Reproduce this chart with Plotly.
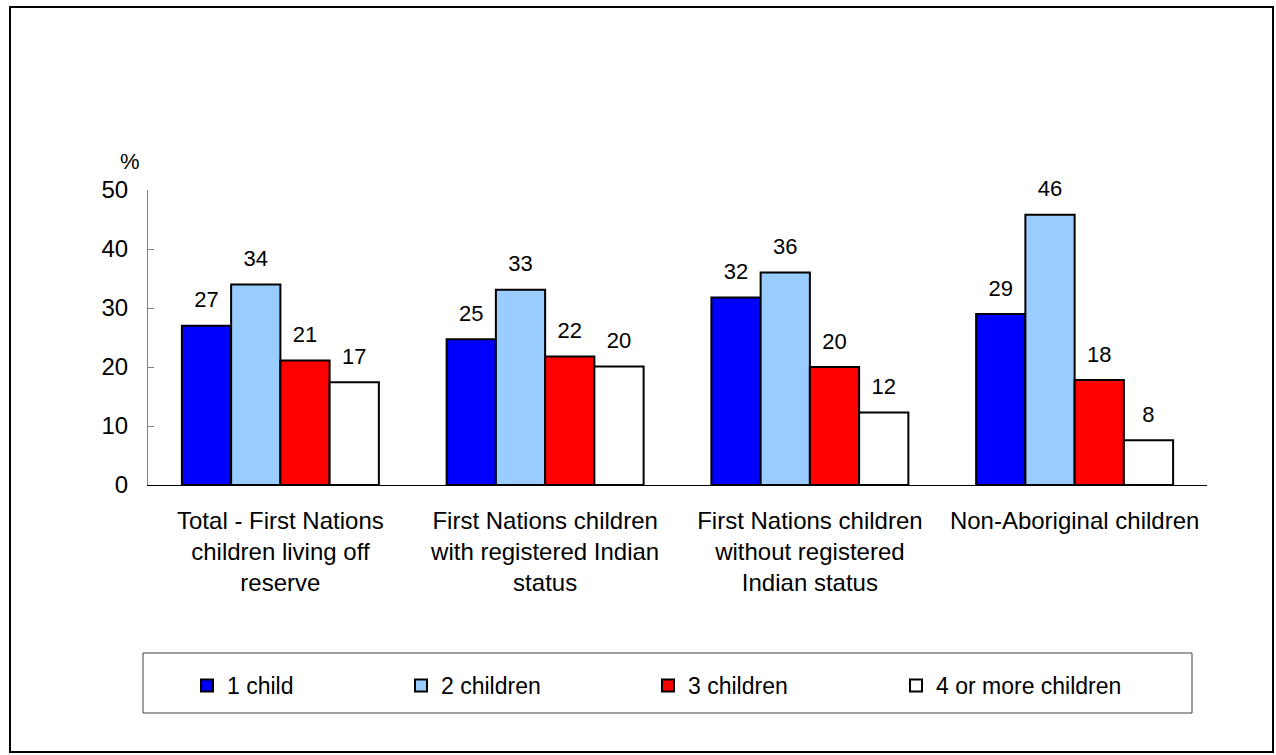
import plotly.graph_objects as go

W, H = 1276, 755
FONT = "Liberation Sans, Arial, sans-serif"

categories = [
    "Total - First Nations<br>children living off<br>reserve",
    "First Nations children<br>with registered Indian<br>status",
    "First Nations children<br>without registered<br>Indian status",
    "Non-Aboriginal children",
]
series_names = ["1 child", "2 children", "3 children", "4 or more children"]
one_child = [27.0, 24.7, 31.8, 29.0]
two_children = [34.0, 33.1, 36.0, 45.8]
three_children = [21.1, 21.8, 20.0, 17.8]
four_plus = [17.4, 20.1, 12.3, 7.6]
y_ticks = [0, 10, 20, 30, 40, 50]

series_values = [one_child, two_children, three_children, four_plus]
colors = ["#0000FF", "#99CCFF", "#FF0000", "#FFFFFF"]

# plot area in pixels
L, R, T, B = 148, 1207, 190, 485
legend_left = [187, 401, 648, 896]  # pixel x of each legend entry


def px_x(x):
    return (x - L) / (R - L)


def px_y(y):
    return (B - y) / (B - T)


legend_ids = ["legend", "legend2", "legend3", "legend4"]

fig = go.Figure()
for i, (name, vals, col) in enumerate(zip(series_names, series_values, colors)):
    fig.add_trace(go.Bar(
        x=categories, y=vals, name=name, legend=legend_ids[i],
        marker=dict(color=col, line=dict(color="black", width=2)),
        offsetgroup=str(i), hoverinfo="skip",
    ))
# value labels, offset like the bars
for i, vals in enumerate(series_values):
    fig.add_trace(go.Scatter(
        x=categories, y=vals, mode="markers+text",
        marker=dict(size=19, opacity=0),
        text=[f"{v:.0f}" for v in vals], textposition="top center",
        textfont=dict(size=22, color="black", family=FONT),
        offsetgroup=str(i), showlegend=False, hoverinfo="skip",
        cliponaxis=False,
    ))

legends = {}
for lid, lx in zip(legend_ids, legend_left):
    legends[lid] = dict(
        orientation="h", x=px_x(lx), y=px_y(664), xanchor="left", yanchor="top",
        font=dict(size=23, family=FONT, color="black"),
        bgcolor="rgba(0,0,0,0)", borderwidth=0, itemclick=False,
    )

fig.update_layout(
    width=W, height=H,
    margin=dict(l=L, r=W - R, t=T, b=H - B),
    barmode="group", bargap=0.256, bargroupgap=0,
    scattermode="group", scattergap=0.256,
    paper_bgcolor="white", plot_bgcolor="white",
    font=dict(family=FONT, size=24, color="black"),
    showlegend=True,
    xaxis=dict(
        showline=True, linecolor="black", linewidth=1, ticks="",
        ticklabelstandoff=14, tickfont=dict(size=24), fixedrange=True,
    ),
    yaxis=dict(
        range=[0, 50], tickvals=y_ticks, showgrid=False, zeroline=False,
        showline=True, linecolor="#808080", linewidth=1,
        ticks="inside", ticklen=6, tickcolor="#808080",
        ticklabelstandoff=14, tickfont=dict(size=24), fixedrange=True,
    ),
    shapes=[
        dict(type="rect", xref="paper", yref="paper",
             x0=px_x(10), x1=px_x(1273), y0=px_y(752), y1=px_y(7),
             line=dict(color="black", width=2), layer="below"),
        dict(type="rect", xref="paper", yref="paper",
             x0=px_x(143), x1=px_x(1192), y0=px_y(713), y1=px_y(653),
             line=dict(color="#404040", width=1), layer="below"),
    ],
    annotations=[
        dict(text="%", xref="paper", yref="paper", x=px_x(118), y=px_y(147),
             showarrow=False, font=dict(size=22)),
    ],
    **legends,
)

fig.write_html(
    "out.html",
    config={"displayModeBar": False},
    post_script="document.body.style.margin='0';document.body.style.overflow='hidden';",
)
